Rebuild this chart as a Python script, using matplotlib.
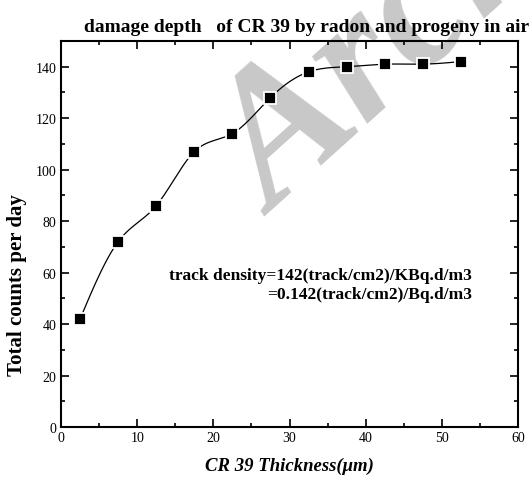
import numpy as np
import matplotlib.pyplot as plt
from matplotlib.ticker import MultipleLocator

thickness = [2.5, 7.5, 12.5, 17.5, 22.5, 27.5, 32.5, 37.5, 42.5, 47.5, 52.5]
counts = [42, 72, 86, 107, 114, 128, 138, 140, 141, 141, 142]

plt.rcParams['font.family'] = ['Liberation Serif', 'DejaVu Serif']


def natural_spline(x, y, n=400):
    # natural cubic spline through the points (like Origin's spline connect)
    x = np.asarray(x, float)
    y = np.asarray(y, float)
    k = len(x)
    h = np.diff(x)
    A = np.zeros((k, k))
    r = np.zeros(k)
    A[0, 0] = A[-1, -1] = 1
    for i in range(1, k - 1):
        A[i, i - 1] = h[i - 1]
        A[i, i] = 2 * (h[i - 1] + h[i])
        A[i, i + 1] = h[i]
        r[i] = 6 * ((y[i + 1] - y[i]) / h[i] - (y[i] - y[i - 1]) / h[i - 1])
    m = np.linalg.solve(A, r)
    xs = np.linspace(x[0], x[-1], n)
    idx = np.clip(np.searchsorted(x, xs) - 1, 0, k - 2)
    x0, x1 = x[idx], x[idx + 1]
    hh = x1 - x0
    a = (x1 - xs) / hh
    b = (xs - x0) / hh
    ys = a * y[idx] + b * y[idx + 1] + ((a ** 3 - a) * m[idx] + (b ** 3 - b) * m[idx + 1]) * hh ** 2 / 6
    return xs, ys


fig = plt.figure(figsize=(5.32, 4.81), dpi=100)
ax = fig.add_axes([0.1147, 0.1102, 0.859, 0.8025])
ax.set_zorder(1)
ax.set_facecolor('none')

# watermark (runs off the top of the page, as in the scan)
fig.text(0.515, 0.55, 'Archive', fontsize=136, fontweight='bold', style='italic',
         color='#c8c8c8', rotation=42, rotation_mode='anchor',
         ha='left', va='baseline', zorder=0)

xs, ys = natural_spline(thickness, counts)
ax.plot(xs, ys, color='black', lw=0.9, zorder=2)
ax.plot(thickness, counts, 's', color='black', markersize=8,
        markeredgecolor='white', markeredgewidth=1.3, zorder=3)

ax.set_xlim(0, 60)
ax.set_ylim(0, 150)
ax.xaxis.set_major_locator(MultipleLocator(10))
ax.xaxis.set_minor_locator(MultipleLocator(5))
ax.yaxis.set_major_locator(MultipleLocator(20))
ax.yaxis.set_minor_locator(MultipleLocator(10))
ax.tick_params(which='both', direction='in', top=True, right=True, labelsize=10, width=1.2)
ax.tick_params(axis='x', pad=3)
ax.tick_params(which='major', length=6)
ax.tick_params(which='minor', length=3)
for s in ax.spines.values():
    s.set_linewidth(1.5)

ax.set_xlabel('CR 39 Thickness(μm)', fontsize=13.5, fontweight='bold', style='italic', labelpad=9)
ax.set_ylabel('Total counts per day', fontsize=15, fontweight='bold')
ax.yaxis.set_label_coords(-0.074, 0.37)
fig.text(0.577, 0.942, 'damage depth   of CR 39 by radon and progeny in air',
         ha='center', va='center', fontsize=14, fontweight='bold')

ax.text(0.899, 0.368, 'track density=142(track/cm2)/KBq.d/m3\n=0.142(track/cm2)/Bq.d/m3',
        transform=ax.transAxes, ha='right', va='center', multialignment='right',
        fontsize=12.5, fontweight='bold', linespacing=1.25)

fig.savefig('out.png', dpi=100)
